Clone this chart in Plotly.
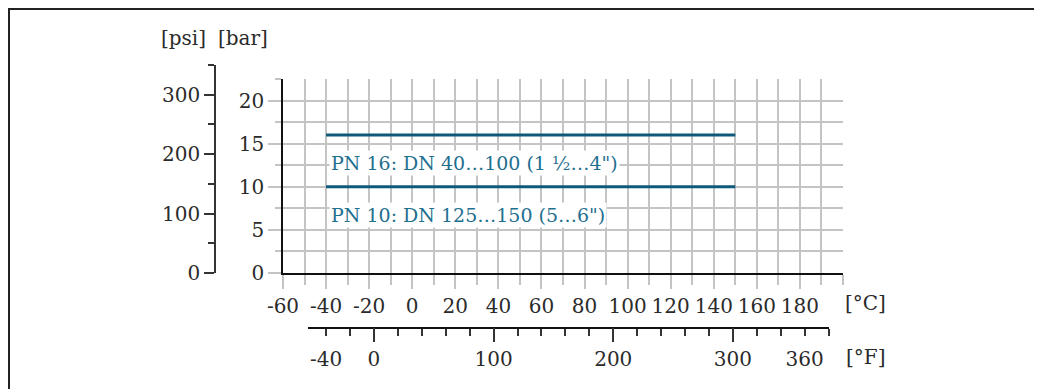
import plotly.graph_objects as go

# pressure-temperature rating, values
temp_c = [-40, 150]
pn16_bar = [16, 16]
pn10_bar = [10, 10]
pn16_label = "PN 16: DN 40…100 (1 ½…4\")"
pn10_label = "PN 10: DN 125…150 (5…6\")"

c_ticks = [-60, -40, -20, 0, 20, 40, 60, 80, 100, 120, 140, 160, 180]
c_text = ["-60", "-40", "-20", "0", "20", "40", "60", "80", "100", "120", "140", "160", "180"]
f_ticks = [-40, 0, 100, 200, 300, 360]
f_text = ["-40", "0", "100", "200", "300", "360"]
f_major = [0, 100, 200, 300]
bar_ticks = [0, 5, 10, 15, 20]
psi_ticks = [0, 100, 200, 300]

c_range = [-60, 200]
bar_range = [0, 22.5]
psi_range = [0, 350]
f_range = [-55, 380]

# page body has an 8px margin, so the figure is drawn 8px smaller and offset
OFF = 8
W, H = 1042 - OFF, 389 - OFF
FONT = "DejaVu Serif"
FS = 20
GRID = "#c4c4c4"
TXT = "#2b2b2b"
LINE = "#0e5a7a"
LBL = "#1f6f8f"

def px(p):
    return (p - OFF) / W

def py(p):
    return 1 - (p - OFF) / H

# plot area in page pixels
L, R, T, B = 283, 843, 79, 273

def c_to_px(c):
    return L + (c - c_range[0]) * (R - L) / (c_range[1] - c_range[0])

f_dom = [px(c_to_px((f - 32) / 1.8)) for f in f_range]

fig = go.Figure()
fig.add_trace(go.Scatter(x=temp_c, y=pn16_bar, mode="lines",
                         line=dict(color=LINE, width=3), showlegend=False))
fig.add_trace(go.Scatter(x=temp_c, y=pn10_bar, mode="lines",
                         line=dict(color=LINE, width=3), showlegend=False))
# empty traces so the extra axes get drawn
fig.add_trace(go.Scatter(x=[None], y=[None], xaxis="x2", yaxis="y4", showlegend=False))
fig.add_trace(go.Scatter(x=[None], y=[None], xaxis="x4", yaxis="y4", showlegend=False))
fig.add_trace(go.Scatter(x=[None], y=[None], xaxis="x3", yaxis="y3", showlegend=False))

tickfont = dict(family=FONT, size=FS, color=TXT)

fig.update_layout(
    width=W, height=H,
    margin=dict(l=0, r=0, t=0, b=0),
    paper_bgcolor="white", plot_bgcolor="white",
    font=dict(family=FONT, color=TXT),
    xaxis=dict(domain=[px(L), px(R)], range=c_range, anchor="y", automargin=False,
               tickvals=c_ticks, ticktext=c_text,
               ticks="outside", ticklen=14, tickcolor=GRID, tickwidth=1.5,
               showgrid=True, gridcolor=GRID, gridwidth=1.5,
               minor=dict(dtick=10, tick0=0, ticks="outside", ticklen=10, tickcolor=GRID,
                          tickwidth=1.5, showgrid=True, gridcolor=GRID, gridwidth=1.5),
               showline=True, linecolor="#111111", linewidth=1.5,
               zeroline=False, tickfont=tickfont),
    yaxis=dict(domain=[py(B), py(T)], range=bar_range, anchor="x", automargin=False,
               tickvals=bar_ticks, ticks="outside", ticklen=13, tickcolor=GRID, tickwidth=1.5,
               showgrid=True, gridcolor=GRID, gridwidth=1.5,
               minor=dict(dtick=2.5, tick0=0, ticks="outside", ticklen=6, tickcolor=GRID,
                          tickwidth=1.5, showgrid=True, gridcolor=GRID, gridwidth=1.5),
               showline=True, linecolor="#111111", linewidth=1.5,
               zeroline=False, tickfont=tickfont),
    # Fahrenheit scale below
    xaxis2=dict(domain=f_dom, range=f_range, anchor="y4", automargin=False,
                tickvals=f_ticks, ticktext=f_text, ticklabelstandoff=6,
                ticks="outside", ticklen=7, tickcolor="#333333", tickwidth=1.5,
                minor=dict(dtick=20, tick0=0, ticks="outside", ticklen=7,
                           tickcolor="#333333", tickwidth=1.5),
                showgrid=False, zeroline=False,
                showline=True, linecolor="#111111", linewidth=1.5, tickfont=tickfont),
    xaxis4=dict(overlaying="x2", range=f_range, anchor="y4", automargin=False,
                tickvals=f_major, ticks="outside", ticklen=14, tickcolor="#333333", tickwidth=1.5,
                showticklabels=False, showgrid=False, zeroline=False, showline=False),
    yaxis4=dict(domain=[py(327), py(320)], visible=False, anchor="x2", range=[0, 1],
                automargin=False),
    # psi scale on the left
    xaxis3=dict(domain=[px(216), px(220)], visible=False, anchor="y3", automargin=False),
    yaxis3=dict(domain=[py(B), py(65)], range=psi_range, anchor="x3", automargin=False,
                tickvals=psi_ticks, ticks="outside", ticklen=10, tickcolor="#333333", tickwidth=1.5,
                minor=dict(dtick=50, tick0=0, ticks="outside", ticklen=6,
                           tickcolor="#333333", tickwidth=1.5),
                showgrid=False, zeroline=False,
                showline=True, linecolor="#333333", linewidth=1.5, tickfont=tickfont),
)

ann = [
    dict(text="[psi]", x=px(183), y=py(38)),
    dict(text="[bar]", x=px(243), y=py(38)),
    dict(text="[°C]", x=px(865), y=py(303)),
    dict(text="[°F]", x=px(865), y=py(357)),
]
for a in ann:
    fig.add_annotation(xref="paper", yref="paper", showarrow=False,
                       xanchor="center", yanchor="middle",
                       font=dict(family=FONT, size=FS, color=TXT), **a)

# curve labels, anchored on the curves
for lbl, yv in [(pn16_label, pn16_bar[0]), (pn10_label, pn10_bar[0])]:
    fig.add_annotation(x=temp_c[0], y=yv, xref="x", yref="y", text=lbl,
                       showarrow=False, xanchor="left", yanchor="top",
                       xshift=3, yshift=-15, bgcolor="white", borderpad=1,
                       font=dict(family=FONT, size=19, color=LBL))

# frame round the figure
fig.add_shape(type="rect", xref="paper", yref="paper",
              x0=px(9), x1=px(1035), y0=-0.2, y1=py(9),
              line=dict(color="#222222", width=2))

fig.write_html("out.html")
